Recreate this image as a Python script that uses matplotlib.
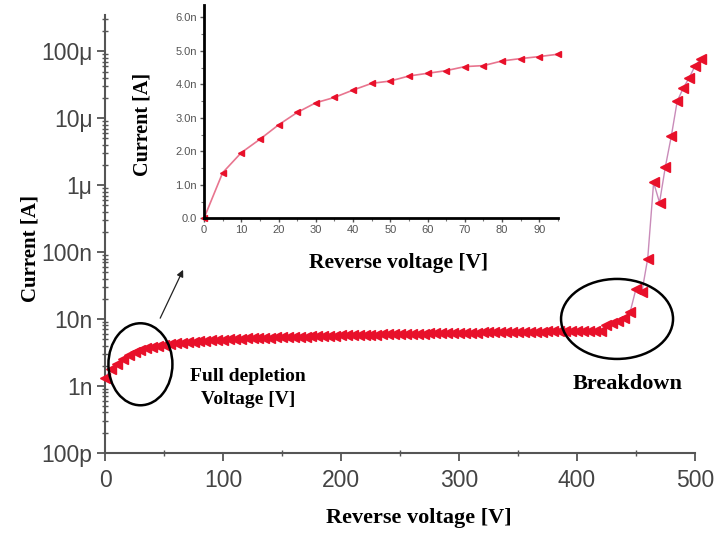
import numpy as np
import matplotlib
matplotlib.use("Agg")
import matplotlib.pyplot as plt
from matplotlib.patches import Ellipse
from matplotlib.ticker import FixedLocator, LogLocator, MultipleLocator, NullFormatter

# main I-V sweep, 5 V steps (current in nA)
voltage = np.arange(0, 510, 5)
current_nA = [
    1.3, 1.8, 2.1, 2.5, 2.85, 3.2, 3.45, 3.65, 3.85, 4.0,
    4.1, 4.25, 4.33, 4.41, 4.5, 4.56, 4.65, 4.72, 4.8, 4.88,
    4.92, 4.97, 5.0, 5.05, 5.1, 5.13, 5.17, 5.2, 5.25, 5.28,
    5.32, 5.35, 5.4, 5.43, 5.46, 5.5, 5.53, 5.56, 5.6, 5.63,
    5.66, 5.69, 5.72, 5.75, 5.78, 5.8, 5.83, 5.86, 5.88, 5.91,
    5.94, 5.96, 5.99, 6.01, 6.04, 6.06, 6.09, 6.11, 6.13, 6.16,
    6.18, 6.2, 6.22, 6.25, 6.27, 6.29, 6.31, 6.33, 6.35, 6.37,
    6.39, 6.41, 6.43, 6.45, 6.47, 6.49, 6.51, 6.53, 6.55, 6.57,
    6.59, 6.61, 6.63, 6.66, 6.7, 8.2, 8.8, 9.4, 10.5, 12.5,
    28, 25, 80, 1100, 550, 1900, 5400, 18000, 28000, 40000,
    60000, 78000,
]

# inset: low-voltage part on linear scale (nA)
inset_voltage = np.arange(0, 100, 5)
inset_current_nA = [
    0.0, 1.36, 1.96, 2.36, 2.79, 3.16, 3.45, 3.61, 3.83, 4.03,
    4.10, 4.25, 4.33, 4.41, 4.53, 4.56, 4.70, 4.77, 4.83, 4.90,
]

ytick_vals = [1e-10, 1e-9, 1e-8, 1e-7, 1e-6, 1e-5, 1e-4]
ytick_labels = ["100p", "1n", "10n", "100n", "1\u03bc", "10\u03bc", "100\u03bc"]
inset_yticks = [0, 1, 2, 3, 4, 5, 6]
inset_ylabels = ["0.0", "1.0n", "2.0n", "3.0n", "4.0n", "5.0n", "6.0n"]

serif = "Liberation Serif"
sans = "Liberation Sans"
marker_red = "#e8102a"
spine_col = "#555555"
tick_col = "#444444"

fig = plt.figure(figsize=(7.15, 5.36), dpi=100)

# ---- main log plot ----
ax = fig.add_axes([0.1469, 0.1554, 0.825, 0.8166])
ax.plot(voltage, np.array(current_nA) * 1e-9, color="#c98bb9", lw=1.0,
        marker="<", ms=7, mfc=marker_red, mec=marker_red, clip_on=False, zorder=3)
ax.set_yscale("log")
ax.set_xlim(0, 500)
ax.set_ylim(1e-10, 3.5e-4)
ax.yaxis.set_major_locator(FixedLocator(ytick_vals))
ax.set_yticklabels(ytick_labels)
ax.yaxis.set_minor_locator(LogLocator(base=10, subs=np.arange(2, 10)))
ax.yaxis.set_minor_formatter(NullFormatter())
ax.xaxis.set_major_locator(MultipleLocator(100))
ax.xaxis.set_minor_locator(MultipleLocator(50))
for s in ["top", "right"]:
    ax.spines[s].set_visible(False)
for s in ["left", "bottom"]:
    ax.spines[s].set_color(spine_col)
    ax.spines[s].set_linewidth(1.5)
ax.tick_params(which="major", direction="out", length=6, width=1.3, color=spine_col,
               labelsize=16.5, labelcolor=tick_col, pad=3)
ax.tick_params(axis="x", which="major", pad=6)
ax.tick_params(which="minor", direction="inout", length=5, width=1.0, color=spine_col)
for lab in ax.get_xticklabels() + ax.get_yticklabels():
    lab.set_fontfamily(sans)

fig.text(419 / 715, 1 - 518 / 536, "Reverse voltage [V]", family=serif, weight="bold",
         fontsize=16, ha="center", va="center")
fig.text(30 / 715, 1 - 248 / 536, "Current [A]", family=serif, weight="bold",
         fontsize=15, ha="center", va="center", rotation=90)

ax.text(121, 1.4e-9, "Full depletion", family=serif, weight="bold", fontsize=14,
        ha="center", va="center")
ax.text(121, 6.3e-10, "Voltage [V]", family=serif, weight="bold", fontsize=14,
        ha="center", va="center")
ax.text(443, 1.07e-9, "Breakdown", family=serif, weight="bold", fontsize=16,
        ha="center", va="center")

# ellipses marking the regions (placed from data points, drawn in axes fraction)
to_axes = ax.transAxes.inverted()
w_ax, h_ax = 590.0, 437.7
c1 = to_axes.transform(ax.transData.transform((30, 2.1e-9)))
ax.add_patch(Ellipse(c1, 64 / w_ax, 82 / h_ax, transform=ax.transAxes,
                     fill=False, ec="black", lw=1.8, zorder=4))
c2 = to_axes.transform(ax.transData.transform((434, 1.0e-8)))
ax.add_patch(Ellipse(c2, 112 / w_ax, 80 / h_ax, transform=ax.transAxes,
                     fill=False, ec="black", lw=1.8, zorder=4))

fig.add_artist(plt.Annotation("", xy=(184.3 / 715, 1 - 267.3 / 536),
                              xytext=(159 / 715, 1 - 320.7 / 536),
                              xycoords="figure fraction", textcoords="figure fraction",
                              arrowprops=dict(arrowstyle="-|>", color="#222222", lw=0.9,
                                              mutation_scale=10)))

# ---- inset linear plot ----
ins = fig.add_axes([204 / 715, 1 - 218.3 / 536, 354 / 715, 213.3 / 536])
ins.patch.set_alpha(0)
ins.plot(inset_voltage, inset_current_nA, color="#e8758f", lw=1.2, marker="<", ms=4.5,
         mfc=marker_red, mec=marker_red, clip_on=False)
ins.set_xlim(0, 95)
ins.set_ylim(0, 6.37)
ins.xaxis.set_major_locator(MultipleLocator(10))
ins.xaxis.set_minor_locator(MultipleLocator(5))
ins.yaxis.set_major_locator(FixedLocator(inset_yticks))
ins.set_yticklabels(inset_ylabels)
ins.yaxis.set_minor_locator(MultipleLocator(0.5))
for s in ["top", "right"]:
    ins.spines[s].set_visible(False)
for s in ["left", "bottom"]:
    ins.spines[s].set_color("black")
    ins.spines[s].set_linewidth(2)
ins.tick_params(which="major", direction="out", length=3, width=1, color="#555555",
                labelsize=8, labelcolor="#555555", pad=2)
ins.tick_params(which="minor", direction="out", length=2, width=0.8, color="#777777")
for lab in ins.get_xticklabels() + ins.get_yticklabels():
    lab.set_fontfamily(sans)

fig.text(399 / 715, 1 - 263 / 536, "Reverse voltage [V]", family=serif, weight="bold",
         fontsize=15.5, ha="center", va="center")
fig.text(142 / 715, 1 - 124 / 536, "Current [A]", family=serif, weight="bold",
         fontsize=14.5, ha="center", va="center", rotation=90)

fig.savefig("out.png", dpi=100)
